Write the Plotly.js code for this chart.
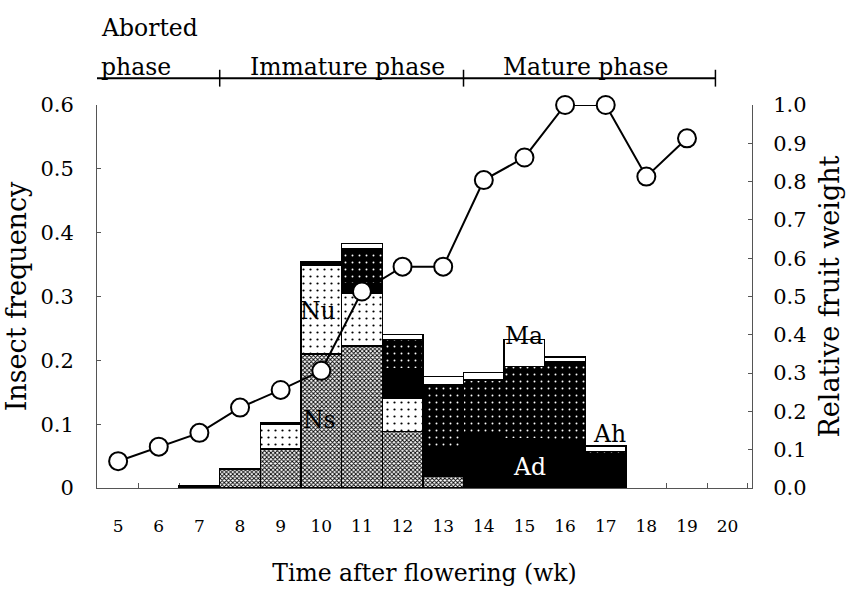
<!DOCTYPE html>
<html>
<head>
<meta charset="utf-8">
<script src="https://cdn.plot.ly/plotly-3.0.1.min.js"></script>
<style>html,body{margin:0;padding:0;background:#fff;}#chart{width:854px;height:589px;}</style>
</head>
<body>
<div id="chart"></div>
<script>
// Weeks after flowering (categories)
const weeks = ['5','6','7','8','9','10','11','12','13','14','15','16','17','18','19','20'];
// Insect frequency by stage (stacked, bottom to top)
const Ns = [null,null,null,0.029,0.061,0.210,0.2225,0.088,0.018,null,null,null,null,null,null,null];
const Nu = [null,null,null,null,0.039,0.139,0.082,0.052,null,null,null,null,null,null,null,null];
const Ad = [null,null,0.003,0.002,0.003,0.006,0.016,0.047,0.047,0.086,0.078,0.075,0.048,null,null,null];
const Ah = [null,null,null,null,null,null,0.054,0.046,0.097,0.083,0.112,0.123,0.009,null,null,null];
const Ma = [null,null,null,null,null,null,0.009,0.007,0.013,0.012,0.043,0.007,0.009,null,null,null];
// Relative fruit weight (right axis)
const rfwWeeks = ['5','6','7','8','9','10','11','12','13','14','15','16','17','18','19'];
const rfw = [0.070,0.108,0.144,0.210,0.256,0.306,0.513,0.578,0.578,0.804,0.863,1.0,1.0,0.813,0.913];
// Phases
const phaseBounds = [-0.52, 2.5, 8.5, 14.7];
const phaseLabels = ['Immature phase','Mature phase'];

const F = 'DejaVu Serif, Liberation Serif, serif';
const edge = {color:'#000', width:1.3};
function barTrace(name, y, pattern){
  return {type:'bar', name:name, x:weeks, y:y, width:1,
    marker:{color:pattern.bgcolor, line:edge, pattern:pattern}, hoverinfo:'skip'};
}
const traces = [
  barTrace('Ns', Ns, {shape:'x', bgcolor:'#ffffff', fgcolor:'#000000', size:3, solidity:0.5, fillmode:'replace'}),
  barTrace('Nu', Nu, {shape:'.', bgcolor:'#ffffff', fgcolor:'#000000', size:7, solidity:0.08, fillmode:'replace'}),
  barTrace('Ad', Ad, {shape:'', bgcolor:'#000000', fgcolor:'#000000', fillmode:'replace'}),
  barTrace('Ah', Ah, {shape:'.', bgcolor:'#000000', fgcolor:'#ffffff', size:7, solidity:0.06, fillmode:'replace'}),
  barTrace('Ma', Ma, {shape:'', bgcolor:'#ffffff', fgcolor:'#ffffff', fillmode:'replace'}),
  {type:'scatter', mode:'lines+markers', x:rfwWeeks, y:rfw, yaxis:'y2', cliponaxis:false,
   line:{color:'#000', width:2},
   marker:{size:18, color:'#fff', line:{color:'#000', width:2}}, hoverinfo:'skip'}
];

const shapes = [];
shapes.push({type:'line', xref:'x', yref:'paper', x0:phaseBounds[0], x1:phaseBounds[3], y0:1.07, y1:1.07, line:{color:'#000', width:2}});
for (let i=1;i<phaseBounds.length;i++){
  shapes.push({type:'line', xref:'x', yref:'paper', x0:phaseBounds[i], x1:phaseBounds[i], y0:1.048, y1:1.092, line:{color:'#000', width:1.5}});
}

const ann = [
  {text:'Aborted', x:phaseBounds[0]+0.05, y:1.20, xanchor:'left'},
  {text:'phase', x:phaseBounds[0]+0.05, y:1.10, xanchor:'left'},
  {text:phaseLabels[0], x:(phaseBounds[1]+phaseBounds[2])/2+0.15, y:1.10, xanchor:'center'},
  {text:phaseLabels[1], x:(phaseBounds[2]+phaseBounds[3])/2-0.1, y:1.10, xanchor:'center'}
].map(a=>Object.assign({xref:'x', yref:'paper', yanchor:'middle', showarrow:false, font:{family:F, size:23.5, color:'#000'}}, a));

const barLabels = [
  {text:'Nu', x:4.92, y:0.277, color:'#000'},
  {text:'Ns', x:4.95, y:0.107, color:'#000'},
  {text:'Ma', x:10.0, y:0.238, color:'#000'},
  {text:'Ah', x:12.1, y:0.085, color:'#000'},
  {text:'Ad', x:10.13, y:0.033, color:'#fff'}
];
barLabels.forEach(b=>ann.push({text:b.text, x:b.x, y:b.y, xref:'x', yref:'y', showarrow:false,
  font:{family:F, size:23.5, color:b.color}}));

const layout = {
  width:854, height:589,
  margin:{l:97, r:102, t:105, b:101},
  paper_bgcolor:'#fff', plot_bgcolor:'#fff',
  barmode:'stack', bargap:0, showlegend:false,
  font:{family:F, color:'#000'},
  xaxis:{type:'category', range:[-0.52, 15.6], tickson:'boundaries', ticks:'inside', ticklen:5, tickcolor:'#555',
    showline:true, linecolor:'#555', linewidth:1, showgrid:false, zeroline:false, layer:'below traces',
    tickfont:{family:F, size:17}, ticklabelstandoff:23,
    title:{text:'Time after flowering (wk)', font:{family:F, size:23.5}, standoff:29}},
  yaxis:{range:[0,0.6], tickvals:[0,0.1,0.2,0.3,0.4,0.5,0.6], ticktext:['0','0.1','0.2','0.3','0.4','0.5','0.6'],
    ticks:'inside', ticklen:4, tickcolor:'#555', showline:true, linecolor:'#555', linewidth:1, showgrid:false, zeroline:false,
    tickfont:{family:F, size:21}, ticklabelstandoff:18,
    title:{text:'Insect frequency', font:{family:F, size:27}, standoff:5}},
  yaxis2:{overlaying:'y', side:'right', range:[0,1], tickvals:[0,0.1,0.2,0.3,0.4,0.5,0.6,0.7,0.8,0.9,1.0], tickformat:'.1f',
    ticks:'inside', ticklen:4, tickcolor:'#555', showline:true, linecolor:'#555', linewidth:1, showgrid:false, zeroline:false,
    tickfont:{family:F, size:21}, ticklabelstandoff:16,
    title:{text:'Relative fruit weight', font:{family:F, size:27}, standoff:14}},
  shapes:shapes, annotations:ann
};
Plotly.newPlot('chart', traces, layout, {displayModeBar:false, staticPlot:true});
</script>
</body>
</html>
